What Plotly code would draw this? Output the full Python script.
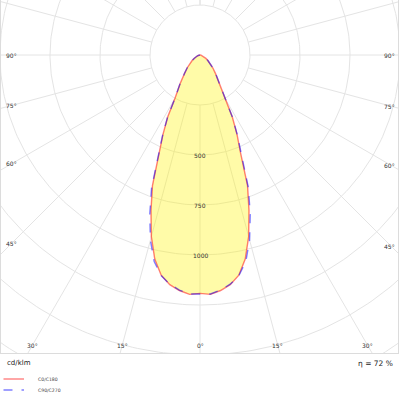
import numpy as np
import plotly.graph_objects as go

# ---- data ----
gamma = [0, 2.5, 5, 7.5, 10, 12.5, 15, 17.5, 20, 22.5, 25, 27.5, 30,
         35, 40, 45, 50, 55, 60, 65, 70, 75, 80, 85, 90]
c0_c180 = [1192, 1198, 1182, 1158, 1118, 1045, 940, 815, 695, 530, 438, 350, 250,
           172, 120, 90, 66, 48, 34, 23, 15, 9, 5, 2, 0]
c90_c270 = [1195, 1196, 1180, 1156, 1120, 1058, 958, 835, 708, 540, 442, 352, 252,
            173, 121, 90, 66, 48, 34, 23, 15, 9, 5, 2, 0]

ring_values = [250, 500, 750, 1000, 1250, 1500, 1750]
ring_labels = [500, 750, 1000]
spoke_angles = list(range(-180, 181, 15))
side_angle_labels = [90, 75, 60, 45]
bottom_angle_labels = [30, 15, 0]
unit_text = "cd/klm"
eta_text = "η = 72 %"
legend_names = ["C0/C180", "C90/C270"]

RED = "rgba(255,0,0,0.5)"
BLUE = "rgba(0,0,255,0.5)"
GRID = "#e4e4e4"
FONT = "DejaVu Sans"


def curve(values):
    g = np.array(gamma, dtype=float)
    v = np.array(values, dtype=float)
    ang = np.concatenate([-g[::-1], g[1:]])
    val = np.concatenate([v[::-1], v[1:]])
    th = np.radians(ang)
    return val * np.sin(th), -val * np.cos(th)


fig = go.Figure()

# grid rings
rx, ry = [], []
t = np.radians(np.arange(0, 361, 1))
for r in ring_values:
    rx += list(r * np.sin(t)) + [None]
    ry += list(-r * np.cos(t)) + [None]
fig.add_trace(go.Scatter(x=rx, y=ry, mode="lines", line=dict(color=GRID, width=1),
                         hoverinfo="skip", showlegend=False))

# spokes
sx, sy = [], []
for a in spoke_angles:
    th = np.radians(a)
    sx += [ring_values[0] * np.sin(th), 2200 * np.sin(th), None]
    sy += [-ring_values[0] * np.cos(th), -2200 * np.cos(th), None]
fig.add_trace(go.Scatter(x=sx, y=sy, mode="lines", line=dict(color=GRID, width=1),
                         hoverinfo="skip", showlegend=False))

# fill
fx, fy = curve(c0_c180)
fig.add_trace(go.Scatter(x=fx, y=fy, mode="lines", fill="toself",
                         fillcolor="rgba(255,242,0,0.34)", line=dict(width=0),
                         hoverinfo="skip", showlegend=False))

# curves
fig.add_trace(go.Scatter(x=fx, y=fy, mode="lines", name=legend_names[0],
                         line=dict(color=RED, width=1.4), showlegend=False))
bx, by = curve(c90_c270)
fig.add_trace(go.Scatter(x=bx, y=by, mode="lines", name=legend_names[1],
                         line=dict(color=BLUE, width=1.4, dash="dash"), showlegend=False))

ann = []
tick_font = dict(family=FONT, size=6, color="#333333")
for v in ring_labels:
    ann.append(dict(x=0, y=-v, text=str(v), showarrow=False, font=tick_font,
                    xanchor="center", yanchor="middle"))
for a in side_angle_labels:
    cot = np.cos(np.radians(a)) / np.sin(np.radians(a))
    ann.append(dict(x=-982, y=-940 * cot, text=f"{a}°", showarrow=False, font=tick_font,
                    xanchor="left", yanchor="middle"))
    ann.append(dict(x=985, y=-955 * cot, text=f"{a}°", showarrow=False, font=tick_font,
                    xanchor="right", yanchor="middle"))
for a in bottom_angle_labels:
    xv = 1450 * np.tan(np.radians(a))
    for s in ([1] if a == 0 else [-1, 1]):
        ann.append(dict(x=s * xv, y=-1450, text=f"{a}°", showarrow=False, font=tick_font,
                        xanchor="center", yanchor="middle"))

W, H = 397.0, 353.0
def px(x):
    return (x - 1) / W
def py(y):
    return (H - y) / H

ann.append(dict(xref="paper", yref="paper", x=px(5), y=py(363), text=unit_text,
                showarrow=False, xanchor="left", yanchor="middle",
                font=dict(family=FONT, size=7, color="#222222")))
ann.append(dict(xref="paper", yref="paper", x=px(395), y=py(363), text=eta_text,
                showarrow=False, xanchor="right", yanchor="middle",
                font=dict(family=FONT, size=7.5, color="#222222")))
leg_font = dict(family=FONT, size=4.6, color="#444444")
ann.append(dict(xref="paper", yref="paper", x=px(36), y=py(379), text=legend_names[0],
                showarrow=False, xanchor="left", yanchor="middle", font=leg_font))
ann.append(dict(xref="paper", yref="paper", x=px(36), y=py(390), text=legend_names[1],
                showarrow=False, xanchor="left", yanchor="middle", font=leg_font))

shapes = [
    dict(type="line", xref="paper", yref="paper", x0=px(3.5), x1=px(24), y0=py(379), y1=py(379),
         line=dict(color=RED, width=1.4)),
    dict(type="line", xref="paper", yref="paper", x0=px(3.5), x1=px(24), y0=py(390), y1=py(390),
         line=dict(color=BLUE, width=1.4, dash="dash")),
]

fig.update_layout(
    width=400, height=400,
    margin=dict(l=1, r=2, t=0, b=47),
    paper_bgcolor="white", plot_bgcolor="white",
    xaxis=dict(range=[-995, 990], showgrid=False, zeroline=False, showticklabels=False,
               showline=True, mirror=True, linecolor="#dcdcdc", linewidth=1, fixedrange=True),
    yaxis=dict(range=[-1490, 275], showgrid=False, zeroline=False, showticklabels=False,
               showline=True, mirror=True, linecolor="#dcdcdc", linewidth=1, fixedrange=True),
    annotations=ann, shapes=shapes, showlegend=False,
)

fig.write_html("out.html", config={"displayModeBar": False},
               post_script="document.body.style.margin='0';document.body.style.overflow='hidden';")
